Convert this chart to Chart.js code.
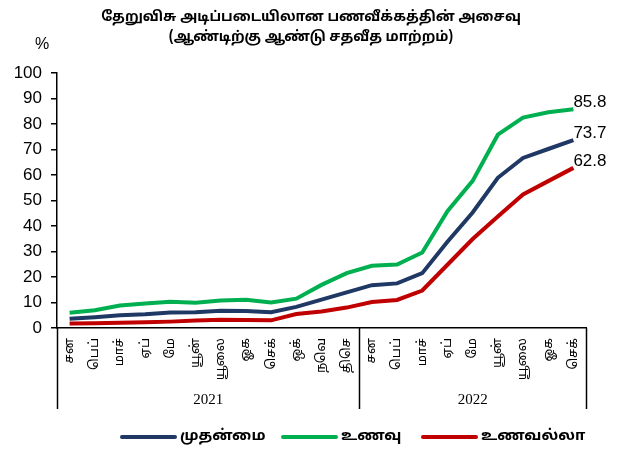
<!DOCTYPE html>
<html>
<head>
<meta charset="utf-8">
<script src="https://cdn.jsdelivr.net/npm/chart.js@4"></script>
<style>
  html, body { margin: 0; padding: 0; background: #fff; }
  #wrap { width: 620px; height: 451px; position: relative; }
</style>
</head>
<body>
<div id="wrap"><canvas id="inflChart" width="620" height="451"></canvas></div>
<script>
// data
const months = ['சன', 'பெப்', 'மாச்', 'ஏப்', 'மே', 'யூன்', 'யூலை', 'ஓக', 'செக்', 'ஒக்', 'நவெ', 'திசெ',
                'சன', 'பெப்', 'மாச்', 'ஏப்', 'மே', 'யூன்', 'யூலை', 'ஓக', 'செக்'];
const years = ['2021', '2022'];
const yearSpans = [12, 9]; // months in each year group
const yTicks = [0, 10, 20, 30, 40, 50, 60, 70, 80, 90, 100];

const headline = [3.6, 4.2, 5.0, 5.4, 6.1, 6.2, 6.8, 6.7, 6.2, 8.3, 11.1, 14.0,
                  16.8, 17.5, 21.5, 33.8, 45.3, 58.9, 66.7, 70.2, 73.7];
const food = [6.0, 7.0, 8.8, 9.6, 10.3, 9.9, 10.8, 11.1, 10.0, 11.5, 16.9, 21.5,
              24.4, 24.9, 29.6, 45.8, 57.7, 75.8, 82.5, 84.6, 85.8];
const nonFood = [1.8, 1.9, 2.1, 2.3, 2.5, 2.9, 3.2, 3.1, 3.0, 5.5, 6.5, 8.0,
                 10.2, 11.0, 14.7, 24.8, 34.9, 43.7, 52.4, 57.6, 62.8];

const seriesNames = ['முதன்மை', 'உணவு', 'உணவல்லா'];
const colors = ['#1F3864', '#00B050', '#C00000'];

const titleLines = ['தேறுவிசு அடிப்படையிலான பணவீக்கத்தின் அசைவு', '(ஆண்டிற்கு ஆண்டு சதவீத மாற்றம்)'];
const tamilFont = '"Noto Sans Tamil", "Latha", "Lohit Tamil", Arial, sans-serif';

// custom drawing: title, %, month/year box, end labels, legend
const decorPlugin = {
  id: 'decor',
  afterDraw(chart) {
    const c = chart.ctx;
    const xs = chart.scales.x;
    const area = chart.chartArea;
    c.save();

    // title
    c.fillStyle = '#000';
    c.textAlign = 'center';
    c.textBaseline = 'middle';
    c.font = 'bold 14px ' + tamilFont;
    c.fillText(titleLines[0], 311, 18);
    c.fillText(titleLines[1], 311, 38);

    // % sign
    c.font = '16px Arial, "Liberation Sans", sans-serif';
    c.fillText('%', 42, 45);

    // box under x axis
    const boxBottom = 409;
    c.strokeStyle = '#000';
    c.lineWidth = 1.5;
    let idx = 0;
    const edges = [area.left];
    yearSpans.forEach(n => {
      idx += n;
      const last = xs.getPixelForValue(idx - 1);
      const step = xs.getPixelForValue(1) - xs.getPixelForValue(0);
      edges.push(last + step / 2);
    });
    edges.forEach(x => {
      c.beginPath();
      c.moveTo(Math.round(x) + 0.5, area.bottom);
      c.lineTo(Math.round(x) + 0.5, boxBottom);
      c.stroke();
    });

    // month labels, rotated
    c.font = '13px "Liberation Serif", ' + tamilFont;
    c.textAlign = 'right';
    c.textBaseline = 'middle';
    months.forEach((m, i) => {
      const x = xs.getPixelForValue(i);
      c.save();
      c.translate(x, area.bottom + 10);
      c.rotate(-Math.PI / 2);
      c.fillText(m, 0, 0);
      c.restore();
    });

    // year labels
    c.font = '15px "Liberation Serif", "Times New Roman", serif';
    c.textAlign = 'center';
    years.forEach((y, i) => {
      c.fillText(y, (edges[i] + edges[i + 1]) / 2, 400);
    });

    // end value labels
    c.font = '17px Arial, "Liberation Sans", sans-serif';
    c.textAlign = 'left';
    c.textBaseline = 'bottom';
    chart.data.datasets.forEach((ds, di) => {
      const meta = chart.getDatasetMeta(di);
      const pt = meta.data[meta.data.length - 1];
      const v = ds.data[ds.data.length - 1];
      c.fillText(v.toFixed(1), pt.x, pt.y + 2);
    });

    // legend
    const legendY = 437;
    const legendX = [122, 283, 423];
    c.font = 'bold 15px ' + tamilFont;
    c.textBaseline = 'middle';
    chart.data.datasets.forEach((ds, di) => {
      const x = legendX[di];
      c.strokeStyle = ds.borderColor;
      c.lineWidth = 4;
      c.lineCap = 'round';
      c.beginPath();
      c.moveTo(x, legendY);
      c.lineTo(x + 53, legendY);
      c.stroke();
      c.fillStyle = '#000';
      c.fillText(ds.label, x + 58, legendY);
    });

    c.restore();
  }
};

const ctx = document.getElementById('inflChart').getContext('2d');

const makeSet = (label, data, color) => ({
  label: label,
  data: data,
  borderColor: color,
  backgroundColor: color,
  borderWidth: 4,
  pointRadius: 0,
  tension: 0,
  fill: false
});

const myChart = new Chart(ctx, {
  type: 'line',
  data: {
    labels: months,
    datasets: [
      makeSet(seriesNames[0], headline, colors[0]),
      makeSet(seriesNames[1], food, colors[1]),
      makeSet(seriesNames[2], nonFood, colors[2])
    ]
  },
  options: {
    responsive: false,
    animation: false,
    layout: {
      padding: { top: 73, right: 34, bottom: 115, left: 0 }
    },
    plugins: {
      legend: { display: false },
      tooltip: { enabled: false }
    },
    scales: {
      x: {
        offset: true,
        grid: { display: false },
        ticks: { display: false },
        border: { display: true, color: '#000', width: 1.5 }
      },
      y: {
        min: yTicks[0],
        max: yTicks[yTicks.length - 1],
        afterFit: (s) => { s.width = 57; },
        afterBuildTicks: (s) => { s.ticks = yTicks.map(v => ({ value: v })); },
        grid: {
          drawOnChartArea: false,
          drawTicks: true,
          tickLength: 6,
          color: '#000',
          lineWidth: 1.5
        },
        border: { display: true, color: '#000', width: 1.5 },
        ticks: {
          padding: 9,
          color: '#000',
          font: { family: 'Arial, "Liberation Sans", sans-serif', size: 17 }
        }
      }
    }
  },
  plugins: [decorPlugin]
});
</script>
</body>
</html>
